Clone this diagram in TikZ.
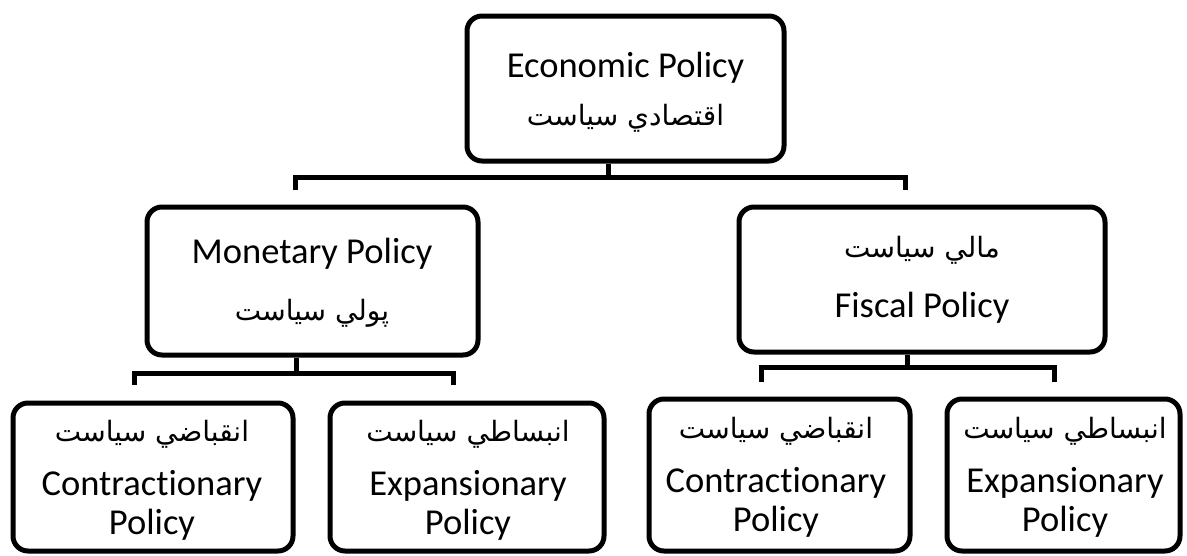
\documentclass[tikz,border=0pt]{standalone}
\usepackage{fontspec}
\setmainfont{Carlito}[Ligatures={NoCommon,NoRare}, RawFeature={-liga;-dlig;-hlig}]
\newfontfamily\arabicfont[Script=Arabic]{DejaVu Sans}
\TeXXeTstate=1
\tikzset{
  box/.style={draw=black, line width=5pt, rounded corners=15pt, inner sep=0pt, fill=white},
  en/.style={font=\fontsize{36.5}{44}\selectfont, anchor=base, inner sep=0pt},
  ar/.style={font=\arabicfont\fontsize{28}{34}\selectfont, anchor=base, inner sep=0pt},
  link/.style={draw=black, line width=5pt}
}
\begin{document}
\begin{tikzpicture}[x=1pt,y=-1pt]
\useasboundingbox (0,0) rectangle (1187,555);
% boxes
\node[box, minimum width=317pt, minimum height=145pt] (eco) at (625.5,88.5) {};
\node[box, minimum width=331pt, minimum height=148pt] (mon) at (312.5,281) {};
\node[box, minimum width=366pt, minimum height=145pt] (fis) at (922,279.5) {};
\node[box, minimum width=280pt, minimum height=148pt] (mc) at (153,477) {};
\node[box, minimum width=274pt, minimum height=148pt] (me) at (467,477) {};
\node[box, minimum width=261pt, minimum height=152pt] (fc) at (779.5,475) {};
\node[box, minimum width=233pt, minimum height=152pt] (fe) at (1063.5,475) {};
% texts
\node[en] (ecoE) at (625.5,77) {Economic Policy};
\node[ar] (ecoA) at (625.5,125) {\beginR اقتصادي سياست\endR};
\node[en] (monE) at (312,263) {Monetary Policy};
\node[ar] (monA) at (312,320) {\beginR پولي سياست\endR};
\node[ar] (fisA) at (922,257) {\beginR مالي سياست\endR};
\node[en] (fisE) at (922,317) {Fiscal Policy};
\node[ar] (mcA) at (152,441) {\beginR انقباضي سياست\endR};
\node[en] (mcE) at (152,495) {Contractionary};
\node[en] (mcP) at (152,534) {Policy};
\node[ar] (meA) at (468,441) {\beginR انبساطي سياست\endR};
\node[en] (meE) at (468,495) {Expansionary};
\node[en] (meP) at (468,534) {Policy};
\node[ar] (fcA) at (776,438) {\beginR انقباضي سياست\endR};
\node[en] (fcE) at (776,492) {Contractionary};
\node[en] (fcP) at (776,531) {Policy};
\node[ar] (feA) at (1065,438) {\beginR انبساطي سياست\endR};
\node[en] (feE) at (1065,492) {Expansionary};
\node[en] (feP) at (1065,531) {Policy};
% connector joints
\coordinate (ecoJ) at (608,177);
\coordinate (monT) at (295,190);
\coordinate (fisT) at (905,190);
\coordinate (monJ) at (296,373);
\coordinate (mcT) at (134,385);
\coordinate (meT) at (453,385);
\coordinate (fisJ) at (907,367);
\coordinate (fcT) at (761,382);
\coordinate (feT) at (1054,382);
% connectors
\draw[link] (eco.south -| ecoJ) -- (ecoJ);
\draw[link] (monT) |- (ecoJ) -| (fisT);
\draw[link] (mon.south -| monJ) -- (monJ);
\draw[link] (mcT) |- (monJ) -| (meT);
\draw[link] (fis.south -| fisJ) -- (fisJ);
\draw[link] (fcT) |- (fisJ) -| (feT);
\end{tikzpicture}
\end{document}
